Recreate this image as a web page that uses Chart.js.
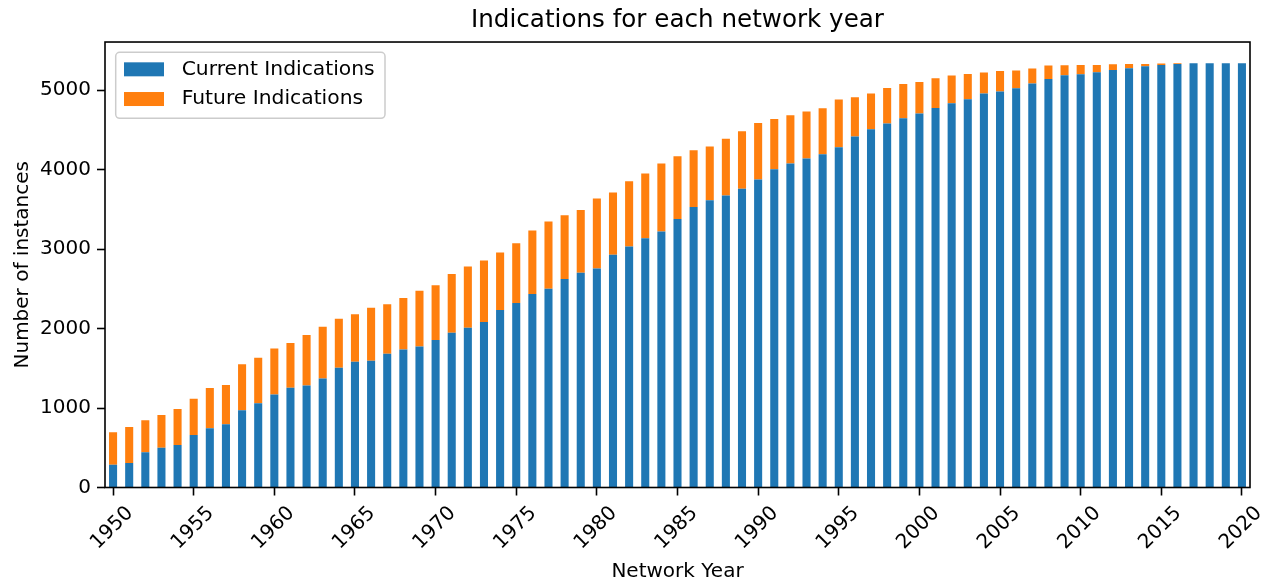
<!DOCTYPE html>
<html>
<head>
<meta charset="utf-8">
<script src="https://cdn.jsdelivr.net/npm/chart.js@4.4.1/dist/chart.umd.min.js"></script>
<style>
  html, body { margin: 0; padding: 0; background: #fff; }
  #wrap { width: 1273px; height: 584px; position: relative; }
</style>
</head>
<body>
<div id="wrap"><canvas id="c"></canvas></div>
<script>
const years = [
  '1950','1951','1952','1953','1954','1955','1956','1957','1958','1959',
  '1960','1961','1962','1963','1964','1965','1966','1967','1968','1969',
  '1970','1971','1972','1973','1974','1975','1976','1977','1978','1979',
  '1980','1981','1982','1983','1984','1985','1986','1987','1988','1989',
  '1990','1991','1992','1993','1994','1995','1996','1997','1998','1999',
  '2000','2001','2002','2003','2004','2005','2006','2007','2008','2009',
  '2010','2011','2012','2013','2014','2015','2016','2017','2018','2019',
  '2020'
];
const currentIndications = [
  287, 308, 443, 501, 535, 660, 745, 795, 971, 1059,
  1172, 1255, 1285, 1373, 1507, 1582, 1595, 1683, 1738, 1776,
  1855, 1947, 2010, 2082, 2233, 2321, 2434, 2501, 2623, 2702,
  2757, 2928, 3034, 3138, 3223, 3381, 3532, 3616, 3675, 3759,
  3877, 4006, 4078, 4141, 4195, 4283, 4418, 4509, 4581, 4648,
  4707, 4778, 4836, 4887, 4958, 4983, 5025, 5084, 5142, 5189,
  5201, 5226, 5255, 5277, 5302, 5318, 5331, 5340, 5340, 5340,
  5340
];
const futureIndications = [
  407, 453, 402, 411, 452, 457, 507, 494, 579, 574,
  579, 563, 633, 650, 616, 600, 667, 625, 646, 700,
  692, 739, 772, 776, 725, 754, 801, 847, 805, 792,
  881, 785, 821, 814, 855, 789, 713, 676, 713, 725,
  712, 633, 608, 591, 579, 600, 494, 449, 448, 431,
  397, 373, 349, 318, 265, 260, 223, 189, 168, 125,
  117, 92, 72, 54, 29, 18, 9, 0, 0, 0,
  0
];
const yTicks = [0, 1000, 2000, 3000, 4000, 5000];
const yMax = 5607;

const FONT = '"DejaVu Sans", sans-serif';

const framePlugin = {
  id: 'frame',
  afterDatasetsDraw(chart) {
    const {ctx, chartArea: a} = chart;
    ctx.save();
    ctx.strokeStyle = '#000';
    ctx.lineWidth = 1.6;
    ctx.strokeRect(a.left, a.top, a.right - a.left, a.bottom - a.top);
    ctx.restore();
  }
};

const boxLegend = {
  id: 'boxLegend',
  afterDraw(chart) {
    const {ctx, chartArea: a} = chart;
    const x0 = a.left + 10.7, y0 = a.top + 10.3, w = 269.3, h = 66;
    ctx.save();
    ctx.beginPath();
    ctx.roundRect(x0, y0, w, h, 4);
    ctx.fillStyle = 'rgba(255,255,255,0.8)';
    ctx.fill();
    ctx.strokeStyle = '#cccccc';
    ctx.lineWidth = 1.5;
    ctx.stroke();
    ctx.font = '20.3px ' + FONT;
    ctx.textBaseline = 'middle';
    ctx.textAlign = 'left';
    chart.data.datasets.forEach((ds, i) => {
      const cy = y0 + 17 + i * 29.7;
      ctx.fillStyle = ds.backgroundColor;
      ctx.fillRect(x0 + 8.3, cy - 7, 40, 14);
      ctx.fillStyle = '#000';
      ctx.fillText(ds.label, x0 + 66, cy);
    });
    ctx.restore();
  }
};

new Chart(document.getElementById('c'), {
  type: 'bar',
  data: {
    labels: years,
    datasets: [
      { label: 'Current Indications', data: currentIndications, backgroundColor: '#1f77b4',
        barPercentage: 0.5, categoryPercentage: 1.0 },
      { label: 'Future Indications', data: futureIndications, backgroundColor: '#ff7f0e',
        barPercentage: 0.5, categoryPercentage: 1.0 }
    ]
  },
  options: {
    responsive: true,
    maintainAspectRatio: false,
    animation: false,
    devicePixelRatio: 1,
    layout: { padding: { left: 0, right: 23, top: 0, bottom: 0 } },
    plugins: {
      legend: { display: false },
      tooltip: { enabled: false },
      title: {
        display: true,
        fullSize: false,
        text: 'Indications for each network year',
        color: '#000',
        font: { family: FONT, size: 24.6, weight: 'normal' },
        padding: { top: 6, bottom: 6.5 }
      }
    },
    scales: {
      x: {
        stacked: true,
        offset: true,
        afterFit(s) { s.height = 96.5; },
        border: { display: false },
        grid: { display: true, drawOnChartArea: false, drawTicks: true, offset: false,
                tickLength: 8, tickWidth: 1.6, tickColor: '#000', color: '#000' },
        ticks: {
          autoSkip: false,
          minRotation: 45,
          maxRotation: 45,
          labelOffset: 17,
          padding: 6,
          color: '#000',
          font: { family: FONT, size: 20 },
          callback(value, index) {
            const lab = years[index];
            return (parseInt(lab, 10) % 5 === 0) ? lab : null;
          }
        },
        title: {
          display: true,
          text: 'Network Year',
          color: '#000',
          font: { family: FONT, size: 20 },
          padding: { top: 0, bottom: 0.5 }
        }
      },
      y: {
        stacked: true,
        min: 0,
        max: yMax,
        afterFit(s) { s.width = 105; },
        afterBuildTicks(s) { s.ticks = yTicks.map(v => ({ value: v })); },
        border: { display: false },
        grid: { display: true, drawOnChartArea: false, drawTicks: true,
                tickLength: 8, tickWidth: 1.6, tickColor: '#000', color: '#000' },
        ticks: {
          includeBounds: false,
          padding: 6,
          color: '#000',
          font: { family: FONT, size: 20 },
          callback(value) { return String(value); }
        },
        title: {
          display: true,
          text: 'Number of instances',
          color: '#000',
          font: { family: FONT, size: 20 },
          padding: { top: 11, bottom: 0 }
        }
      }
    }
  },
  plugins: [framePlugin, boxLegend]
});
</script>
</body>
</html>
